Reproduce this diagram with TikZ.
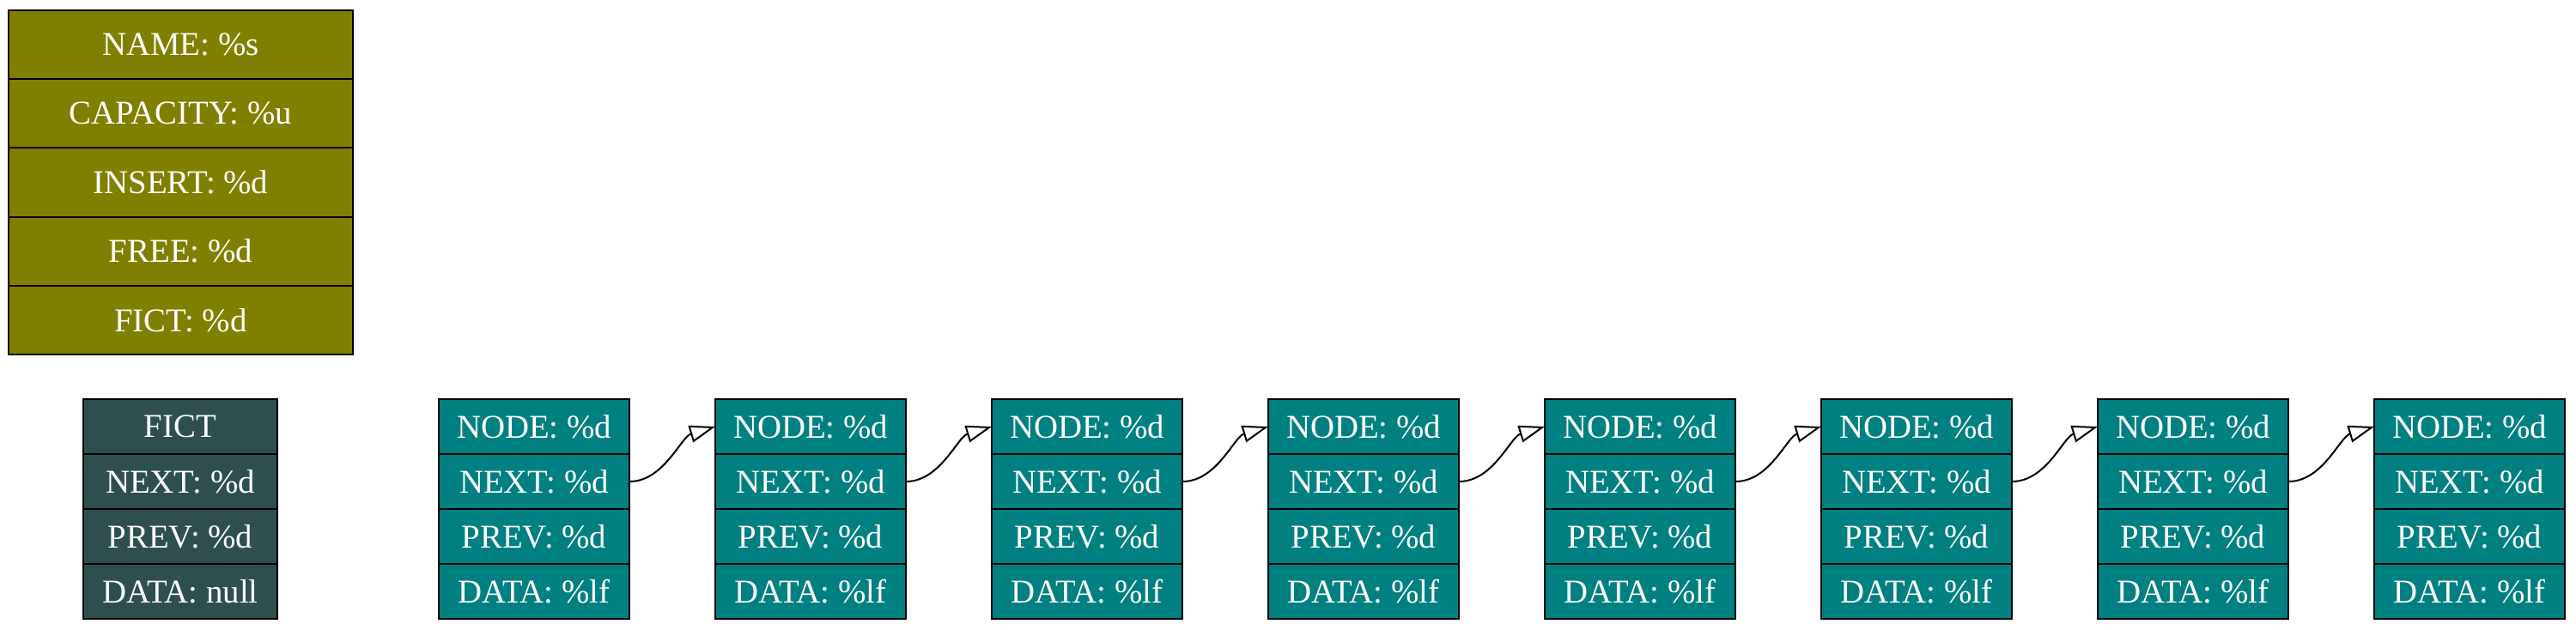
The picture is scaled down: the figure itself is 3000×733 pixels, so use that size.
\documentclass[tikz,border=0pt]{standalone}
\usepackage{fontspec}
\setmainfont{Liberation Serif}
\usetikzlibrary{arrows.meta}
\definecolor{olivec}{HTML}{808000}
\definecolor{dslate}{HTML}{2F4F4F}
\definecolor{tealc}{HTML}{008080}
\begin{document}
\begin{tikzpicture}[x=0.25pt,y=-0.25pt,
 cell/.style={draw=black,line width=0.5pt,inner sep=0pt,outer sep=0pt,text=white,font=\fontsize{9.7}{11}\selectfont},
 infocell/.style={cell,fill=olivec,minimum width=100.25pt,minimum height=20.05pt},
 fictcell/.style={cell,fill=dslate,minimum width=56.5pt,minimum height=16pt},
 listcell/.style={cell,fill=tealc,minimum width=55.5pt,minimum height=16pt},
 link/.style={draw=black,line width=0.5pt,-{Triangle[open,length=7.5pt,width=5pt]}}]
\useasboundingbox (0,0) rectangle (3000,733);
% info block
\node[infocell] (info-name) at (210.5,52.1) {NAME: \%s};
\node[infocell] (info-cap)  at (210.5,132.3) {CAPACITY: \%u};
\node[infocell] (info-ins)  at (210.5,212.5) {INSERT: \%d};
\node[infocell] (info-free) at (210.5,292.7) {FREE: \%d};
\node[infocell] (info-fict) at (210.5,372.9) {FICT: \%d};
% fictive node
\node[fictcell] (f-head) at (210,497) {FICT};
\node[fictcell] (f-next) at (210,561) {NEXT: \%d};
\node[fictcell] (f-prev) at (210,625) {PREV: \%d};
\node[fictcell] (f-data) at (210,689) {DATA: null};
% list nodes
\foreach \i in {1,...,8}{
  \pgfmathsetmacro\cx{622+322*(\i-1)}
  \node[listcell] (n\i-node) at (\cx,497) {NODE: \%d};
  \node[listcell] (n\i-next) at (\cx,561) {NEXT: \%d};
  \node[listcell] (n\i-prev) at (\cx,625) {PREV: \%d};
  \node[listcell] (n\i-data) at (\cx,689) {DATA: \%lf};
}
\foreach \i in {1,...,7}{
  \pgfmathtruncatemacro\j{\i+1}
  \draw[link] (n\i-next.east) .. controls +(40,0) and +(-40,12) .. (n\j-node.west);
}
\end{tikzpicture}
\end{document}
